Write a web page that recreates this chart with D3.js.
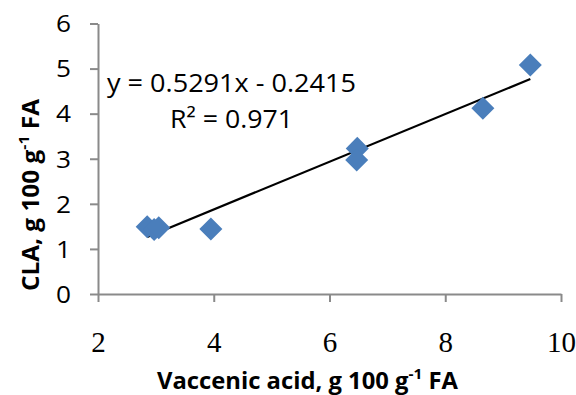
<!DOCTYPE html>
<html>
<head>
<meta charset="utf-8">
<script src="https://cdn.jsdelivr.net/npm/d3@7"></script>
<style>
  body { margin: 0; background: #fff; }
</style>
</head>
<body>
<div id="chart"></div>
<script>
// Data
var vaccenic = [2.85, 2.97, 3.05, 3.95, 6.48, 6.47, 8.65, 9.47];
var cla      = [1.49, 1.43, 1.47, 1.44, 3.23, 2.97, 4.12, 5.08];
var xTicks = [2, 4, 6, 8, 10];
var yTicks = [0, 1, 2, 3, 4, 5, 6];
var slope = 0.5291, intercept = -0.2415, r2 = 0.971;

var width = 576, height = 395;
var margin = {top: 23.5, right: 15, bottom: 101, left: 98};

var svg = d3.select("#chart")
  .append("svg")
    .attr("width", width)
    .attr("height", height);

var x = d3.scaleLinear().domain([2, 10]).range([margin.left, 561]);
var y = d3.scaleLinear().domain([0, 6]).range([height - margin.bottom, margin.top]);

var axisColor = "#8a8a8a";

// Y axis
var yAxis = svg.append("g")
  .attr("transform", "translate(" + margin.left + ",0)")
  .call(d3.axisLeft(y).tickValues(yTicks).tickSize(8).tickSizeOuter(0).tickFormat(d3.format("d")));
yAxis.select(".domain").attr("stroke", axisColor).attr("stroke-width", 2);
yAxis.selectAll(".tick line").attr("stroke", axisColor).attr("stroke-width", 2);
yAxis.selectAll(".tick text")
  .attr("x", -27)
  .attr("dy", "0.36em")
  .attr("fill", "#000")
  .style("font-family", "'Open Sans', sans-serif")
  .style("font-size", "23px")
  .attr("textLength", 15)
  .attr("lengthAdjust", "spacingAndGlyphs");

// X axis
var xAxis = svg.append("g")
  .attr("transform", "translate(0," + y(0) + ")")
  .call(d3.axisBottom(x).tickValues(xTicks).tickSize(8).tickSizeOuter(0).tickFormat(d3.format("d")));
xAxis.select(".domain").attr("stroke", axisColor).attr("stroke-width", 2);
xAxis.selectAll(".tick line").attr("stroke", axisColor).attr("stroke-width", 2);
xAxis.selectAll(".tick text")
  .attr("y", 58)
  .attr("dy", 0)
  .attr("fill", "#000")
  .style("font-family", "'Liberation Serif', serif")
  .style("font-size", "29px");

// Trend line over the data range
var xMin = d3.min(vaccenic), xMax = d3.max(vaccenic);
svg.append("line")
  .attr("x1", x(xMin)).attr("y1", y(slope * xMin + intercept))
  .attr("x2", x(xMax)).attr("y2", y(slope * xMax + intercept))
  .attr("stroke", "#000")
  .attr("stroke-width", 2.2);

// Diamonds
var diamond = d3.symbol().type(d3.symbolSquare).size(265);
svg.selectAll(".pt")
  .data(vaccenic)
  .enter()
  .append("path")
    .attr("class", "pt")
    .attr("d", diamond)
    .attr("transform", function(d, i) { return "translate(" + x(d) + "," + y(cla[i]) + ") rotate(45)"; })
    .attr("fill", "#4a7ebb");

// Equation text
var eq = svg.append("g")
  .style("font-family", "'Open Sans', sans-serif")
  .style("font-size", "25px")
  .attr("fill", "#000");
eq.append("text")
  .attr("x", 107).attr("y", 92)
  .attr("textLength", 249).attr("lengthAdjust", "spacingAndGlyphs")
  .text("y = " + slope + "x - " + Math.abs(intercept));
eq.append("text")
  .attr("x", 170).attr("y", 128)
  .attr("textLength", 123).attr("lengthAdjust", "spacingAndGlyphs")
  .text("R\u00b2 = " + r2);

// Axis titles
var xt = svg.append("text")
  .attr("x", 157).attr("y", 389)
  .attr("textLength", 301).attr("lengthAdjust", "spacingAndGlyphs")
  .style("font-family", "'Open Sans', sans-serif")
  .style("font-size", "23px")
  .style("font-weight", "bold");
xt.append("tspan").text("Vaccenic acid, g 100 g");
xt.append("tspan").attr("dy", -10).style("font-size", "15px").text("-1");
xt.append("tspan").attr("dy", 10).text(" FA");

var yt = svg.append("text")
  .attr("transform", "translate(39,291) rotate(-90)")
  .attr("textLength", 192).attr("lengthAdjust", "spacingAndGlyphs")
  .style("font-family", "'Open Sans', sans-serif")
  .style("font-size", "23px")
  .style("font-weight", "bold");
yt.append("tspan").text("CLA, g 100 g");
yt.append("tspan").attr("dy", -10).style("font-size", "15px").text("-1");
yt.append("tspan").attr("dy", 10).text(" FA");
</script>
</body>
</html>
